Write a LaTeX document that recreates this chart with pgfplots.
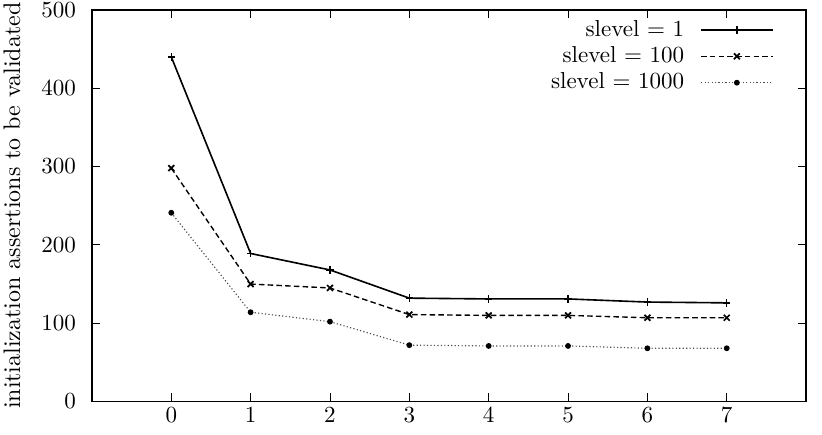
\documentclass[border=0pt]{standalone}
\usepackage{pgfplots}
\pgfplotsset{compat=1.18}
\begin{document}
\begin{tikzpicture}
\begin{axis}[
  width=310pt, height=170pt, scale only axis,
  xmin=-1, xmax=8, ymin=0, ymax=500,
  xtick={0,...,7}, ytick={0,100,...,500},
  tick align=inside, major tick length=3.5pt,
  tick style={black, line width=0.4pt},
  axis line style={line width=0.65pt},
  yticklabel style={xshift=-3.4pt},
  xticklabel style={yshift=0.8pt},
  ylabel={initialization assertions to be validated},
  ylabel style={yshift=2.2pt, font=\fontsize{10.4}{12}\selectfont},
  legend style={draw=none, fill=none, at={(1,1)}, anchor=north east,
    xshift=-11pt, yshift=-0.3pt, font=\normalsize, row sep=-1pt},
  legend cell align=right,
  legend plot pos=right,
  legend image code/.code={%
    \path (0pt,0pt);
    \draw[mark repeat=2, mark phase=2]
      plot coordinates {(5pt,0pt) (20.5pt,0pt) (36pt,0pt)};},
]
\addplot[black, line width=0.7pt, mark=+, mark size=1.6pt, mark options={solid, line width=0.6pt}]
  coordinates {(0,440) (1,189) (2,168) (3,132) (4,131) (5,131) (6,127) (7,126)};
\addlegendentry{slevel = 1}
\addplot[black, line width=0.6pt, dash pattern=on 2.4pt off 1.4pt, mark=x, mark size=1.8pt, mark options={solid, line width=0.75pt}]
  coordinates {(0,298) (1,150) (2,145) (3,111) (4,110) (5,110) (6,107) (7,107)};
\addlegendentry{slevel = 100}
\addplot[black!70, line width=0.5pt, densely dotted, mark=*, mark size=1pt, mark options={solid, black}]
  coordinates {(0,241) (1,114) (2,102) (3,72) (4,71) (5,71) (6,68) (7,68)};
\addlegendentry{slevel = 1000}
\end{axis}
% fixed page margins around the axis box
\pgfresetboundingbox
\path ([shift={(-39.9pt,-14.3pt)}]current axis.south west)
  rectangle ([shift={(6.9pt,4.3pt)}]current axis.north east);
\end{tikzpicture}
\end{document}
